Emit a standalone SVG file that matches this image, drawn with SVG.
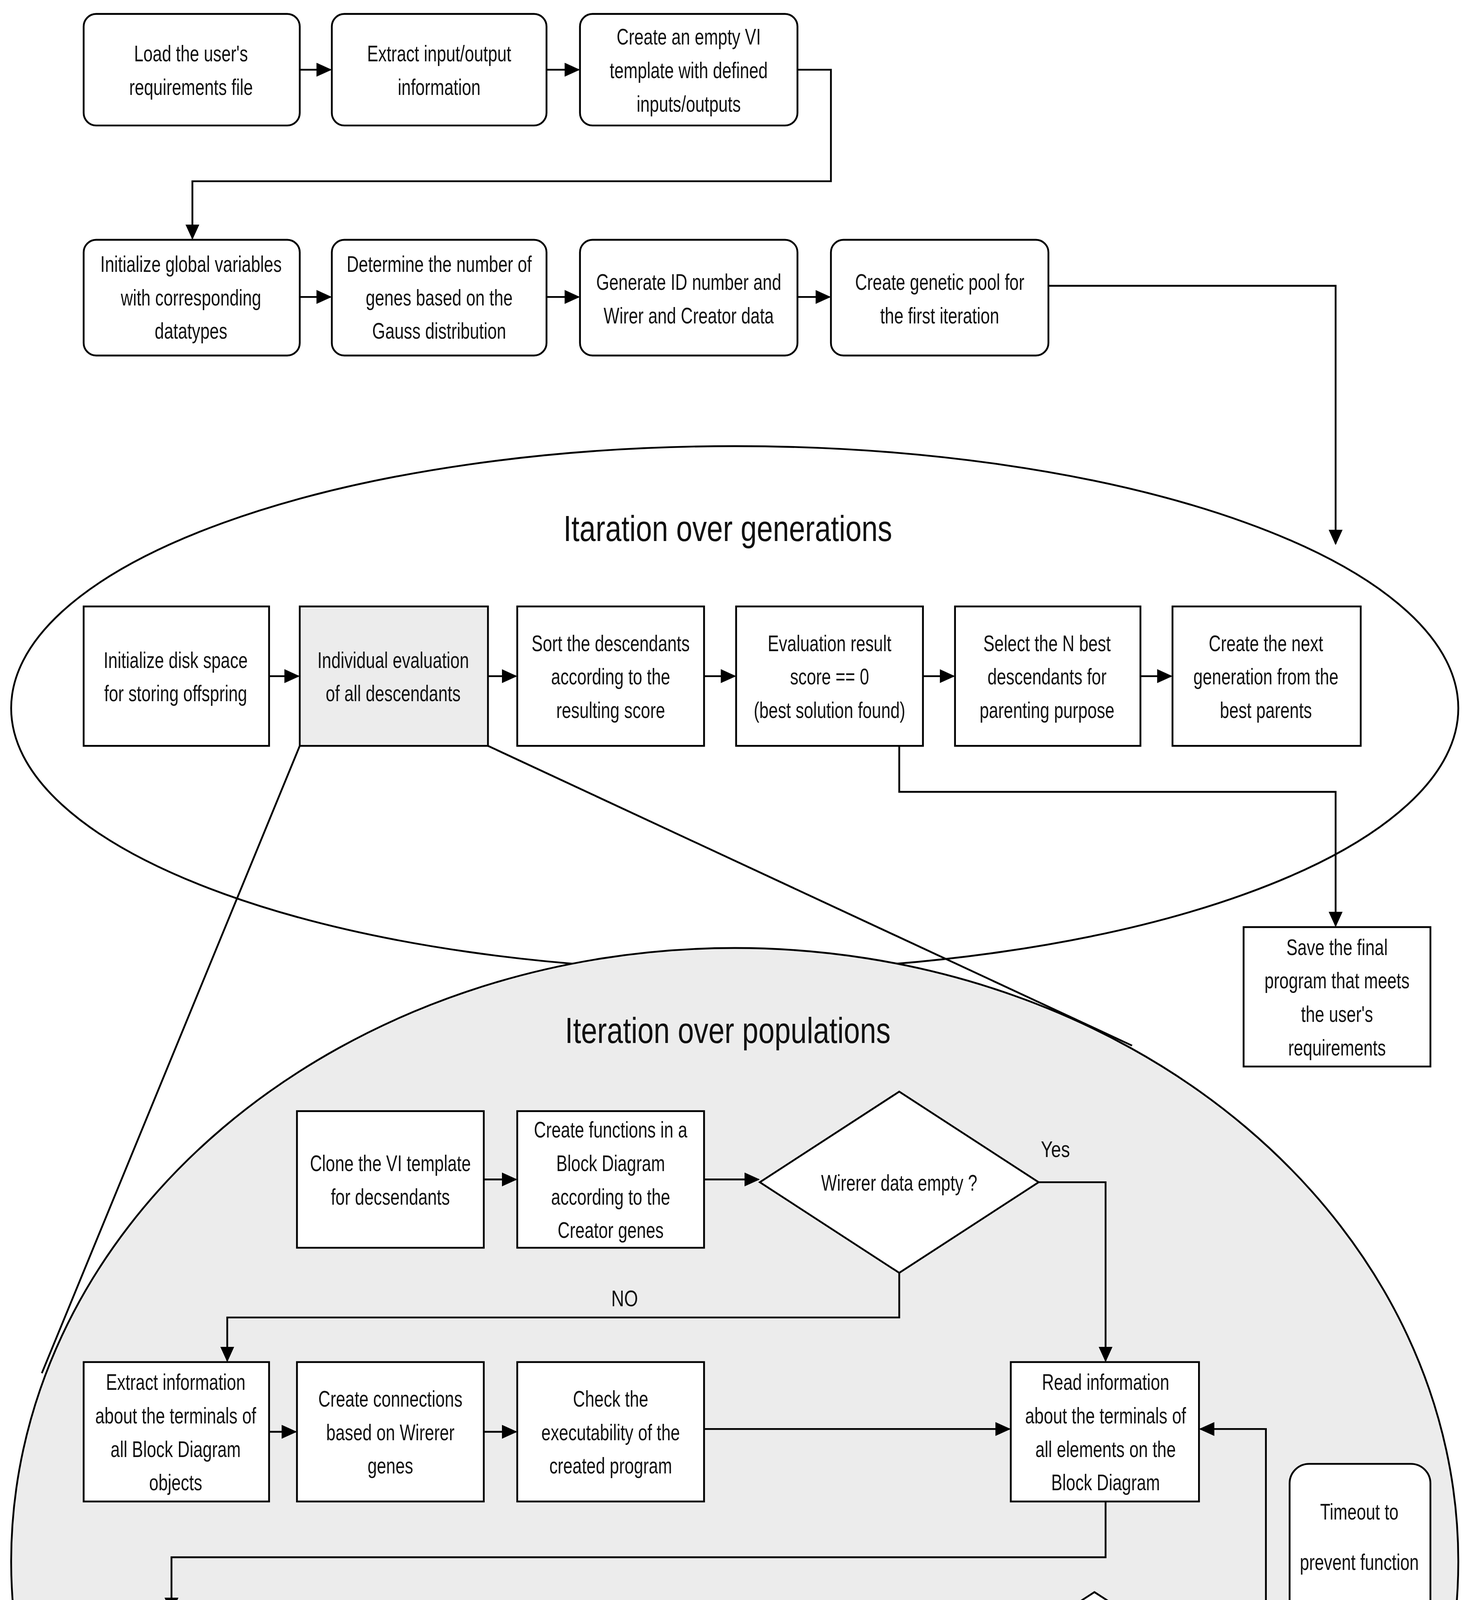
<svg xmlns="http://www.w3.org/2000/svg" width="3758" height="5571" viewBox="0 0 3758 5571">
<style>
.b{fill:#fff;stroke:#000;stroke-width:1.3}
.g{fill:#ececec;stroke:#000;stroke-width:1.3}
.c{fill:none;stroke:#000;stroke-width:1.3}
text{font-family:"Liberation Sans",Arial,sans-serif;font-size:16px;text-anchor:middle;fill:#111}
.t{font-size:26px}
</style>
<defs><marker id="a" markerUnits="userSpaceOnUse" markerWidth="11" markerHeight="10" refX="10" refY="5" orient="auto"><path d="M0,0L11,5L0,10z" fill="#000"/></marker></defs>
<rect width="3758" height="5571" fill="#fff"/>
<g transform="scale(3.569)">
<g id="ellipses">
<ellipse cx="527" cy="508" rx="519" ry="188" class="b"/>
<ellipse cx="527" cy="1120" rx="519" ry="440" class="g"/>
<text class="t" transform="translate(522,388) scale(.8,1)">Itaration over generations</text>
<text class="t" transform="translate(522,748) scale(.8,1)">Iteration over populations</text>
</g>
<g id="connectors">
<path class="c" marker-end="url(#a)" d="M215,50H237"/>
<path class="c" marker-end="url(#a)" d="M392,50H415"/>
<path class="c" marker-end="url(#a)" d="M572,50H596V130H138V171"/>
<path class="c" marker-end="url(#a)" d="M215,213H237"/>
<path class="c" marker-end="url(#a)" d="M392,213H415"/>
<path class="c" marker-end="url(#a)" d="M572,213H595"/>
<path class="c" marker-end="url(#a)" d="M752,205H958V390"/>
<path class="c" marker-end="url(#a)" d="M193,485H214"/>
<path class="c" marker-end="url(#a)" d="M350,485H370"/>
<path class="c" marker-end="url(#a)" d="M505,485H527"/>
<path class="c" marker-end="url(#a)" d="M662,485H684"/>
<path class="c" marker-end="url(#a)" d="M818,485H840"/>
<path class="c" marker-end="url(#a)" d="M645,535V568H958V664"/>
<path class="c" d="M215,535L30,985"/>
<path class="c" d="M350,535L812,750"/>
<path class="c" marker-end="url(#a)" d="M347,846H370"/>
<path class="c" marker-end="url(#a)" d="M505,846H544"/>
<path class="c" marker-end="url(#a)" d="M745,848H793V976"/>
<path class="c" marker-end="url(#a)" d="M645,913V945H163V976"/>
<path class="c" marker-end="url(#a)" d="M193,1027H212"/>
<path class="c" marker-end="url(#a)" d="M347,1027H370"/>
<path class="c" marker-end="url(#a)" d="M505,1025H724"/>
<path class="c" marker-end="url(#a)" d="M793,1077V1117H123V1156"/>
<path class="c" marker-end="url(#a)" d="M193,1207H212"/>
<path class="c" marker-end="url(#a)" d="M347,1207H370"/>
<path class="c" marker-end="url(#a)" d="M505,1207H527"/>
<path class="c" marker-end="url(#a)" d="M662,1208H682"/>
<path class="c" marker-end="url(#a)" d="M887,1208H908V1025H861"/>
<path class="c" marker-end="url(#a)" d="M785,1273V1305H280V1339"/>
<path class="c" marker-end="url(#a)" d="M347,1388H370"/>
<path class="c" marker-end="url(#a)" d="M505,1388H527"/>
<text transform="translate(757,830) scale(.8,1)">Yes</text>
<text transform="translate(448,937) scale(.8,1)">NO</text>
<text transform="translate(881,1183) scale(.8,1)">NO</text>
<text transform="translate(711,1298) scale(.8,1)">YES</text>
</g>
<g id="n1"><rect class="b" x="60" y="10" width="155" height="80" rx="9"/><text transform="translate(137,44) scale(.75,1)"><tspan x="0">Load the user's</tspan><tspan x="0" dy="24">requirements file</tspan></text></g>
<g id="n2"><rect class="b" x="238" y="10" width="154" height="80" rx="9"/><text transform="translate(315,44) scale(.75,1)"><tspan x="0">Extract input/output</tspan><tspan x="0" dy="24">information</tspan></text></g>
<g id="n3"><rect class="b" x="416" y="10" width="156" height="80" rx="9"/><text transform="translate(494,32) scale(.75,1)"><tspan x="0">Create an empty VI</tspan><tspan x="0" dy="24">template with defined</tspan><tspan x="0" dy="24">inputs/outputs</tspan></text></g>
<g id="n4"><rect class="b" x="60" y="172" width="155" height="83" rx="9"/><text transform="translate(137,195) scale(.75,1)"><tspan x="0">Initialize global variables</tspan><tspan x="0" dy="24">with corresponding</tspan><tspan x="0" dy="24">datatypes</tspan></text></g>
<g id="n5"><rect class="b" x="238" y="172" width="154" height="83" rx="9"/><text transform="translate(315,195) scale(.75,1)"><tspan x="0">Determine the number of</tspan><tspan x="0" dy="24">genes based on the</tspan><tspan x="0" dy="24">Gauss distribution</tspan></text></g>
<g id="n6"><rect class="b" x="416" y="172" width="156" height="83" rx="9"/><text transform="translate(494,208) scale(.75,1)"><tspan x="0">Generate ID number and</tspan><tspan x="0" dy="24">Wirer and Creator data</tspan></text></g>
<g id="n7"><rect class="b" x="596" y="172" width="156" height="83" rx="9"/><text transform="translate(674,208) scale(.75,1)"><tspan x="0">Create genetic pool for</tspan><tspan x="0" dy="24">the first iteration</tspan></text></g>
<g id="g1"><rect class="b" x="60" y="435" width="133" height="100"/><text transform="translate(126,479) scale(.75,1)"><tspan x="0">Initialize disk space</tspan><tspan x="0" dy="24">for storing offspring</tspan></text></g>
<g id="g2"><rect class="g" x="215" y="435" width="135" height="100"/><text transform="translate(282,479) scale(.75,1)"><tspan x="0">Individual evaluation</tspan><tspan x="0" dy="24">of all descendants</tspan></text></g>
<g id="g3"><rect class="b" x="371" y="435" width="134" height="100"/><text transform="translate(438,467) scale(.75,1)"><tspan x="0">Sort the descendants</tspan><tspan x="0" dy="24">according to the</tspan><tspan x="0" dy="24">resulting score</tspan></text></g>
<g id="g4"><rect class="b" x="528" y="435" width="134" height="100"/><text transform="translate(595,467) scale(.75,1)"><tspan x="0">Evaluation result</tspan><tspan x="0" dy="24">score == 0</tspan><tspan x="0" dy="24">(best solution found)</tspan></text></g>
<g id="g5"><rect class="b" x="685" y="435" width="133" height="100"/><text transform="translate(751,467) scale(.75,1)"><tspan x="0">Select the N best</tspan><tspan x="0" dy="24">descendants for</tspan><tspan x="0" dy="24">parenting purpose</tspan></text></g>
<g id="g6"><rect class="b" x="841" y="435" width="135" height="100"/><text transform="translate(908,467) scale(.75,1)"><tspan x="0">Create the next</tspan><tspan x="0" dy="24">generation from the</tspan><tspan x="0" dy="24">best parents</tspan></text></g>
<g id="save"><rect class="b" x="892" y="665" width="134" height="100"/><text transform="translate(959,685) scale(.75,1)"><tspan x="0">Save the final</tspan><tspan x="0" dy="24">program that meets</tspan><tspan x="0" dy="24">the user's</tspan><tspan x="0" dy="24">requirements</tspan></text></g>
<g id="pa1"><rect class="b" x="213" y="797" width="134" height="98"/><text transform="translate(280,840) scale(.75,1)"><tspan x="0">Clone the VI template</tspan><tspan x="0" dy="24">for decsendants</tspan></text></g>
<g id="pa2"><rect class="b" x="371" y="797" width="134" height="98"/><text transform="translate(438,816) scale(.75,1)"><tspan x="0">Create functions in a</tspan><tspan x="0" dy="24">Block Diagram</tspan><tspan x="0" dy="24">according to the</tspan><tspan x="0" dy="24">Creator genes</tspan></text></g>
<g id="d1"><path class="b" d="M645,783L745,848L645,913L545,848z"/><text transform="translate(645,854) scale(.75,1)">Wirerer data empty ?</text></g>
<g id="pb1"><rect class="b" x="60" y="977" width="133" height="100"/><text transform="translate(126,997) scale(.75,1)"><tspan x="0">Extract information</tspan><tspan x="0" dy="24">about the terminals of</tspan><tspan x="0" dy="24">all Block Diagram</tspan><tspan x="0" dy="24">objects</tspan></text></g>
<g id="pb2"><rect class="b" x="213" y="977" width="134" height="100"/><text transform="translate(280,1009) scale(.75,1)"><tspan x="0">Create connections</tspan><tspan x="0" dy="24">based on Wirerer</tspan><tspan x="0" dy="24">genes</tspan></text></g>
<g id="pb3"><rect class="b" x="371" y="977" width="134" height="100"/><text transform="translate(438,1009) scale(.75,1)"><tspan x="0">Check the</tspan><tspan x="0" dy="24">executability of the</tspan><tspan x="0" dy="24">created program</tspan></text></g>
<g id="pb4"><rect class="b" x="725" y="977" width="135" height="100"/><text transform="translate(793,997) scale(.75,1)"><tspan x="0">Read information</tspan><tspan x="0" dy="24">about the terminals of</tspan><tspan x="0" dy="24">all elements on the</tspan><tspan x="0" dy="24">Block Diagram</tspan></text></g>
<g id="timeout"><rect class="b" x="925" y="1050" width="101" height="133" rx="14"/><text transform="translate(975,1090) scale(.75,1)"><tspan x="0">Timeout to</tspan><tspan x="0" dy="36">prevent function</tspan><tspan x="0" dy="36">stuck</tspan></text></g>
<g id="pc1"><rect class="b" x="60" y="1157" width="133" height="100"/><text transform="translate(126,1189) scale(.75,1)"><tspan x="0">Create random</tspan><tspan x="0" dy="24">connections for each</tspan><tspan x="0" dy="24">unconnected input</tspan></text></g>
<g id="pc2"><rect class="b" x="213" y="1157" width="134" height="100"/><text transform="translate(280,1189) scale(.75,1)"><tspan x="0">Check broken wires</tspan><tspan x="0" dy="24">and logical</tspan><tspan x="0" dy="24">connections</tspan></text></g>
<g id="pc3"><rect class="b" x="371" y="1157" width="134" height="100"/><text transform="translate(438,1201) scale(.75,1)"><tspan x="0">Remove</tspan><tspan x="0" dy="24">broken wires</tspan></text></g>
<g id="pc4"><rect class="b" x="528" y="1157" width="134" height="100"/><text transform="translate(595,1189) scale(.75,1)"><tspan x="0">Check the</tspan><tspan x="0" dy="24">executability of the</tspan><tspan x="0" dy="24">created program</tspan></text></g>
<g id="d2"><path class="b" d="M785,1142L887,1208L785,1273L683,1208z"/><text transform="translate(785,1214) scale(.75,1)">Termination condition met ?</text></g>
<g id="pd1"><rect class="b" x="213" y="1340" width="134" height="97"/><text transform="translate(280,1358) scale(.75,1)"><tspan x="0">Add the new genetic</tspan><tspan x="0" dy="24">information to the</tspan><tspan x="0" dy="24">Wirer's and Creator's</tspan><tspan x="0" dy="24">gene pool</tspan></text></g>
<g id="pd2"><rect class="b" x="371" y="1340" width="134" height="97"/><text transform="translate(438,1358) scale(.75,1)"><tspan x="0">Validate the code</tspan><tspan x="0" dy="24">functionality against</tspan><tspan x="0" dy="24">the user-defined</tspan><tspan x="0" dy="24">requirements</tspan></text></g>
<g id="pd3"><rect class="b" x="528" y="1340" width="134" height="97"/><text transform="translate(595,1370) scale(.75,1)"><tspan x="0">Calculate the score</tspan><tspan x="0" dy="24">(fitness) value for the</tspan><tspan x="0" dy="24">particular program</tspan></text></g>
</g>
</svg>
